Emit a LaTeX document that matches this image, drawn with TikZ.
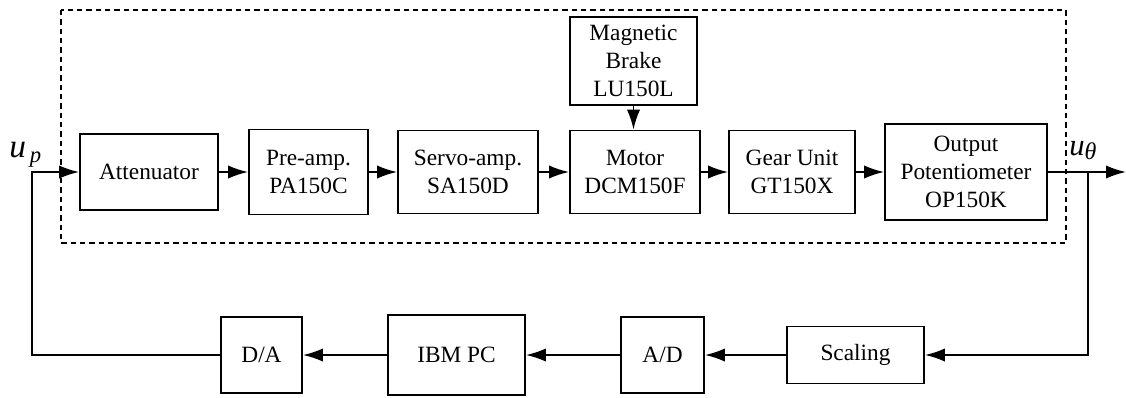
\documentclass[tikz,border=0pt]{standalone}
\usepackage{fontspec}
\setmainfont{Liberation Serif}
\usetikzlibrary{arrows.meta}
\tikzset{
  blk/.style={draw, line width=1.4pt, align=center, inner sep=1pt,
    font=\fontsize{17.5}{21}\selectfont},
  arr/.style={line width=1.4pt, -{Latex[length=15pt,width=10pt]}},
  frame/.style={line width=1.1pt, dash pattern=on 4pt off 3pt},
  lbl/.style={inner sep=0pt}
}
\begin{document}
\begin{tikzpicture}[x=0.75pt,y=-0.75pt]
\useasboundingbox (0,0) rectangle (1126,397);
% dashed frame
\draw[frame] (61,10) rectangle (1066,243);
% forward path
\node[blk, minimum width=103.5pt, minimum height=57pt] (att) at (149,172) {Attenuator};
\node[blk, minimum width=89.25pt, minimum height=63.75pt] (pre) at (308.5,172) {Pre-amp.\\PA150C};
\node[blk, minimum width=105pt, minimum height=62.25pt] (servo) at (468,172) {Servo-amp.\\SA150D};
\node[blk, minimum width=97.5pt, minimum height=62.25pt] (motor) at (635,172) {Motor\\DCM150F};
\node[blk, minimum width=94.5pt, minimum height=62.25pt] (gear) at (792,172) {Gear Unit\\GT150X};
\node[blk, minimum width=121.5pt, minimum height=72pt] (op) at (966,172) {Output\\Potentiometer\\OP150K};
\node[blk, minimum width=95.25pt, minimum height=66pt] (brake) at (633.5,61) {Magnetic\\Brake\\LU150L};
% feedback path
\node[blk, minimum width=60.75pt, minimum height=57pt] (da) at (261.5,355) {D/A};
\node[blk, minimum width=102.75pt, minimum height=60pt] (pc) at (456.5,355) {IBM PC};
\node[blk, minimum width=62.25pt, minimum height=57pt] (ad) at (662.5,355) {A/D};
\node[blk, minimum width=102.75pt, minimum height=42.75pt] (sc) at (855.5,355) {Scaling};
% coordinates
\coordinate (in) at (32,355);
\coordinate (out) at (1126,172);
\coordinate (br) at (1088,172);
\coordinate (fb) at (1088,355);
% connectors
\draw[arr] (att) -- (pre);
\draw[arr] (pre) -- (servo);
\draw[arr] (servo) -- (motor);
\draw[arr] (motor) -- (gear);
\draw[arr] (gear) -- (op);
\draw[arr] (op.east) -- (out);
\draw[arr] (brake.south) -- (brake.south |- motor.north);
\draw[arr] (br) -- (fb) -- (sc.east);
\draw[arr] (sc) -- (ad);
\draw[arr] (ad) -- (pc);
\draw[arr] (pc) -- (da);
\draw[arr] (da.west) -- (in) |- (att.west);
% labels
\node[lbl, anchor=base west] (up) at (9,157) {\fontsize{25}{25}\selectfont\itshape u\kern3pt\raisebox{-4pt}{\fontsize{17}{17}\selectfont p}};
\node[lbl, anchor=base west] (ut) at (1069,155) {\fontsize{23}{23}\selectfont\itshape u\raisebox{-3pt}{\fontsize{18}{18}\selectfont θ}};
\end{tikzpicture}
\end{document}
